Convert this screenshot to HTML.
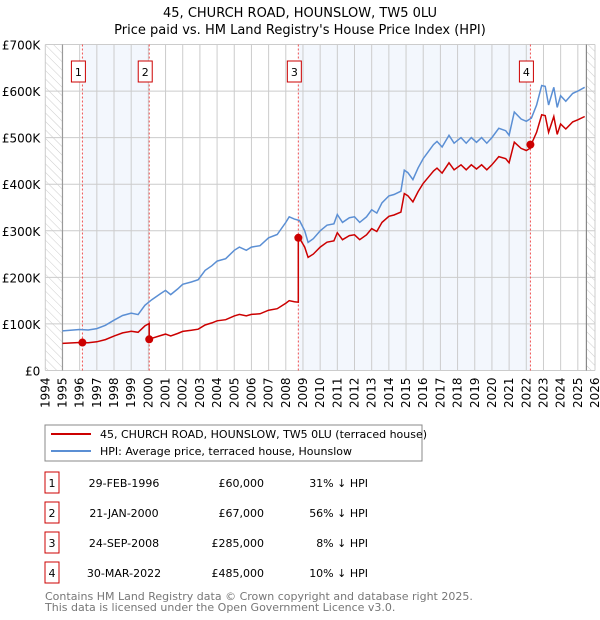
<!DOCTYPE html>
<html><head><meta charset="utf-8"><style>
body{margin:0;background:#fff;font-family:"DejaVu Sans","Liberation Sans",sans-serif;}
svg{display:block}
</style></head><body>
<svg id="c" width="600" height="620" viewBox="0 0 600 620" font-family="DejaVu Sans, Liberation Sans, sans-serif">
<defs><pattern id="hatch" width="6" height="6" patternUnits="userSpaceOnUse" patternTransform="rotate(-45)"><line x1="0" y1="0" x2="0" y2="6" stroke="#ccc" stroke-width="1"/></pattern></defs>
<text x="300" y="17" text-anchor="middle" font-size="13">45, CHURCH ROAD, HOUNSLOW, TW5 0LU</text>
<text x="300" y="34" text-anchor="middle" font-size="13">Price paid vs. HM Land Registry's House Price Index (HPI)</text>
<g id="plot"></g>
<g id="legend">
<rect x="45" y="425" width="377" height="36" fill="#fff" stroke="#888"/>
<line x1="51" y1="434" x2="91" y2="434" stroke="#cc0000" stroke-width="2"/>
<text x="100" y="438" font-size="11">45, CHURCH ROAD, HOUNSLOW, TW5 0LU (terraced house)</text>
<line x1="51" y1="451" x2="91" y2="451" stroke="#5b8fd4" stroke-width="2"/>
<text x="100" y="455" font-size="11">HPI: Average price, terraced house, Hounslow</text>
</g>
<g id="table" font-size="11"></g>
<text x="45" y="600" font-size="11" fill="#777">Contains HM Land Registry data © Crown copyright and database right 2025.</text>
<text x="45" y="611" font-size="11" fill="#777">This data is licensed under the Open Government Licence v3.0.</text>
</svg>
<script>
const hpiYears=[1995,1996,1996.5,1997,1997.5,1998,1998.5,1999,1999.4,1999.8,2000.2,2000.7,2001,2001.3,2001.7,2002,2002.5,2002.9,2003.3,2003.7,2004,2004.5,2005,2005.3,2005.7,2006,2006.5,2007,2007.5,2008,2008.2,2008.5,2008.8,2009.1,2009.3,2009.6,2010,2010.4,2010.8,2011,2011.3,2011.7,2012,2012.3,2012.7,2013,2013.3,2013.6,2014,2014.3,2014.7,2014.9,2015.1,2015.4,2015.7,2016,2016.3,2016.6,2016.8,2017.1,2017.5,2017.8,2018.2,2018.5,2018.8,2019.1,2019.4,2019.7,2020,2020.4,2020.8,2021,2021.3,2021.7,2022,2022.3,2022.6,2022.9,2023.1,2023.3,2023.6,2023.8,2024,2024.3,2024.7,2025,2025.4];
const hpiValues=[85,88,87,90,97,108,118,123,120,140,152,165,172,163,175,185,190,195,215,225,235,240,258,265,258,265,268,285,292,318,330,325,322,300,275,283,300,312,315,335,318,328,330,318,330,345,338,360,375,378,385,430,425,410,435,455,470,485,492,480,505,488,500,488,500,490,500,488,500,520,515,505,555,540,535,542,570,612,610,570,608,565,590,578,595,600,608];
const saleYears=[1996.16,2000.05,2008.73,2022.24];
const salePrices=[60,67,285,485];
const saleLabels=["1","2","3","4"];
const saleDates=["29-FEB-1996","21-JAN-2000","24-SEP-2008","30-MAR-2022"];
const salePriceText=["£60,000","£67,000","£285,000","£485,000"];
const saleDiffText=["31% ↓ HPI","56% ↓ HPI","8% ↓ HPI","10% ↓ HPI"];
const yTicks=[0,100,200,300,400,500,600,700];
const yTickLabels=["£0","£100K","£200K","£300K","£400K","£500K","£600K","£700K"];

const NS="http://www.w3.org/2000/svg";
const X0=45.3,X1=595,Y0=370.5,Y1=44.5;
const xs=t=>X0+(t-1994)/(2026-1994)*(X1-X0);
const ys=v=>Y0-v/700*(Y0-Y1);
const plot=document.getElementById('plot');
function mk(tag,attrs,parent){const e=document.createElementNS(NS,tag);for(const k in attrs)e.setAttribute(k,attrs[k]);(parent||plot).appendChild(e);return e;}
function hpiAt(t){if(t<=hpiYears[0])return hpiValues[0];for(let i=1;i<hpiYears.length;i++){if(t<=hpiYears[i]){const f=(t-hpiYears[i-1])/(hpiYears[i]-hpiYears[i-1]);return hpiValues[i-1]+f*(hpiValues[i]-hpiValues[i-1]);}}return hpiValues[hpiValues.length-1];}

let b=mk('rect',{x:xs(saleYears[0]),y:Y1,width:xs(saleYears[1])-xs(saleYears[0]),height:Y0-Y1,fill:'#eef3fc',opacity:0.7});


b=mk('rect',{x:xs(saleYears[2]),y:Y1,width:xs(saleYears[3])-xs(saleYears[2]),height:Y0-Y1,fill:'#eef3fc',opacity:0.7});


b=mk('rect',{x:X0,y:Y1,width:xs(1995)-X0,height:Y0-Y1,fill:'url(#hatch)'});


b=mk('rect',{x:xs(2025.5),y:Y1,width:X1-xs(2025.5),height:Y0-Y1,fill:'url(#hatch)'});


for(let y=1994;y<=2026;y++){
 const l=mk('line',{x1:xs(y),x2:xs(y),y1:Y1,y2:Y0,stroke:'#ccc','stroke-width':1});
 
 
 const t=mk('text',{x:0,y:0,'font-size':12,'text-anchor':'end',transform:`translate(${xs(y)+4},${Y0+7}) rotate(-90)`});
 t.textContent=String(y);
 
 
}
yTicks.forEach((v,i)=>{
 const l=mk('line',{x1:X0,x2:X1,y1:ys(v),y2:ys(v),stroke:'#ccc','stroke-width':1});
 
 
 const t=mk('text',{x:X0-5,y:ys(v)+5,'font-size':12,'text-anchor':'end'});
 t.textContent=yTickLabels[i];
 
 
});
let ax=mk('line',{x1:xs(1995),x2:xs(1995),y1:Y1,y2:Y0,stroke:'#999','stroke-width':1.2});


ax=mk('line',{x1:xs(2025.5),x2:xs(2025.5),y1:Y1,y2:Y0,stroke:'#888','stroke-width':1.2});


saleYears.forEach((s,i)=>{
 const l=mk('line',{x1:xs(s),x2:xs(s),y1:Y1,y2:Y0,stroke:'#f05050','stroke-width':1,'stroke-dasharray':'2,2'});
 
 
 const r=mk('rect',{x:xs(s)-11,y:61,width:14,height:21,fill:'#fff',stroke:'#c00'});
 
 
 const t=mk('text',{x:xs(s)-4,y:76,'font-size':11,'text-anchor':'middle'});
 t.textContent=saleLabels[i];
 
 
});
let d=hpiYears.map((t,i)=>(i?'L':'M')+xs(t).toFixed(1)+','+ys(hpiValues[i]).toFixed(1)).join('');
let p=mk('path',{d:d,fill:'none',stroke:'#5b8fd4','stroke-width':1.5});


function segFor(t){let k=0;for(let i=0;i<saleYears.length;i++)if(t>=saleYears[i])k=i;return k;}
const pts=[];
const times=[...hpiYears,...saleYears].sort((a,b)=>a-b);
times.forEach(t=>{
 const k=segFor(t);
 if(saleYears.includes(t)&&k>0){const kp=k-1;pts.push([t,salePrices[kp]*hpiAt(t)/hpiAt(saleYears[kp])]);}
 pts.push([t,salePrices[k]*hpiAt(t)/hpiAt(saleYears[k])]);
});
d=pts.map((q,i)=>(i?'L':'M')+xs(q[0]).toFixed(1)+','+ys(q[1]).toFixed(1)).join('');
p=mk('path',{d:d,fill:'none',stroke:'#cc0000','stroke-width':1.5});


saleYears.forEach((s,i)=>{
 const c=mk('circle',{cx:xs(s),cy:ys(salePrices[i]),r:4,fill:'#cc0000'});
 
 
});
const tb=document.getElementById('table');
const rowY=[483,513,543,573];
saleYears.forEach((s,i)=>{
 const y=rowY[i];
 const r=mk('rect',{x:45,y:y-11,width:14,height:21,fill:'#fff',stroke:'#c00'},tb);
 
 
 let t=mk('text',{x:52,y:y+4,'text-anchor':'middle'},tb);t.textContent=saleLabels[i];
 
 
 t=mk('text',{x:124,y:y+4,'text-anchor':'middle'},tb);t.textContent=saleDates[i];
 
 
 t=mk('text',{x:264,y:y+4,'text-anchor':'end'},tb);t.textContent=salePriceText[i];
 
 
 t=mk('text',{x:368,y:y+4,'text-anchor':'end'},tb);t.textContent=saleDiffText[i];
 
 
});
</script>
</body></html>
